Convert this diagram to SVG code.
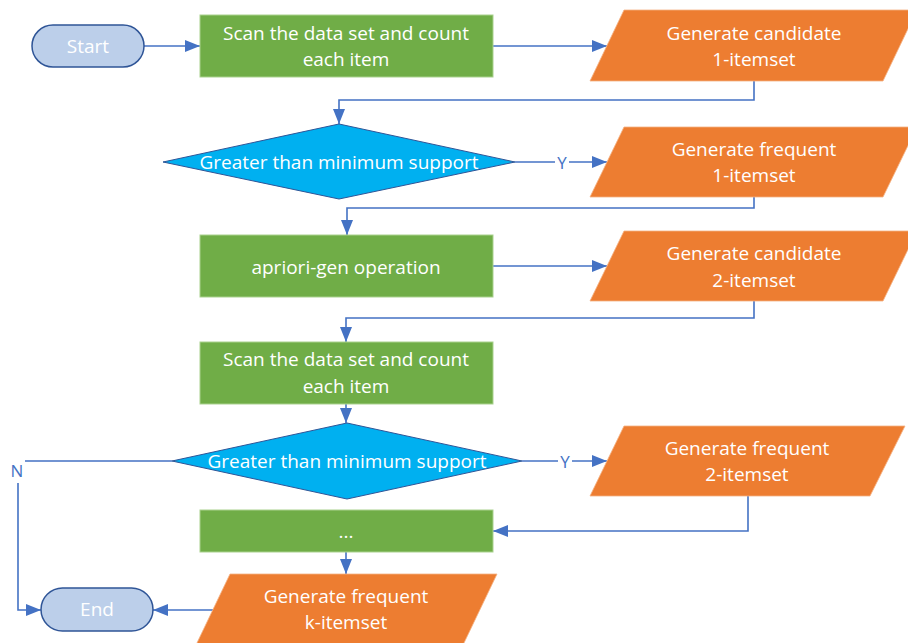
<svg xmlns="http://www.w3.org/2000/svg" width="908" height="643" viewBox="0 0 908 643">
  <style>
    .proc { fill: #70AD47; stroke: #A9D18E; stroke-width: 1; }
    .io { fill: #ED7D31; stroke: #F4B183; stroke-width: 0.8; }
    .dec { fill: #00B0F0; stroke: #2F5597; stroke-width: 1; }
    .term { fill: #BCCFEA; stroke: #2F5597; stroke-width: 1.5; }
    .t { font-family: "Open Sans", "Liberation Sans", sans-serif; font-size: 19px; fill: #FFFFFF; text-anchor: middle; dominant-baseline: central; }
    .lbl { font-family: "Open Sans", "Liberation Sans", sans-serif; font-size: 17px; fill: #4472C4; text-anchor: middle; dominant-baseline: central; }
    .wire { fill: none; stroke: #4472C4; stroke-width: 1.6; }
  </style>
  <defs>
    <marker id="arrow" markerUnits="userSpaceOnUse" markerWidth="16" markerHeight="14" refX="15" refY="7" orient="auto">
      <path d="M0,1 L15,7 L0,13 z" fill="#4472C4"/>
    </marker>
  </defs>

  <rect width="908" height="643" fill="#FFFFFF"/>

  <!-- connectors -->
  <g id="connectors">
    <path class="wire" d="M144,46 H200" marker-end="url(#arrow)"/>
    <path class="wire" d="M493,46 H607" marker-end="url(#arrow)"/>
    <path class="wire" d="M754,81 V100 H339 V124" marker-end="url(#arrow)"/>
    <path class="wire" d="M515,162 H607" marker-end="url(#arrow)"/>
    <path class="wire" d="M754,197 V208 H347 V235" marker-end="url(#arrow)"/>
    <path class="wire" d="M493,266 H607" marker-end="url(#arrow)"/>
    <path class="wire" d="M754,301 V318 H346 V342" marker-end="url(#arrow)"/>
    <path class="wire" d="M346,404 V423" marker-end="url(#arrow)"/>
    <path class="wire" d="M522,461 H607" marker-end="url(#arrow)"/>
    <path class="wire" d="M748,496 V531 H493" marker-end="url(#arrow)"/>
    <path class="wire" d="M346,552 V574" marker-end="url(#arrow)"/>
    <path class="wire" d="M213,610 H153" marker-end="url(#arrow)"/>
    <path class="wire" d="M172,461 H18 V610 H41" marker-end="url(#arrow)"/>
    <!-- branch labels -->
    <rect x="555" y="152" width="14" height="20" fill="#FFFFFF"/>
    <text class="lbl" x="562" y="162">Y</text>
    <rect x="558" y="451" width="14" height="20" fill="#FFFFFF"/>
    <text class="lbl" x="565" y="461">Y</text>
    <rect x="6" y="455" width="19" height="28" fill="#FFFFFF"/>
    <text class="lbl" x="17" y="470">N</text>
  </g>

  <g id="start">
    <rect class="term" x="32" y="25" width="112" height="42" rx="21"/>
    <text class="t" x="88" y="46">Start</text>
  </g>

  <g id="scan1">
    <rect class="proc" x="200" y="15" width="293" height="62"/>
    <text class="t" x="346" y="33">Scan the data set and count</text>
    <text class="t" x="346" y="59">each item</text>
  </g>

  <g id="candidate1">
    <polygon class="io" points="624,10 917,10 883,81 590,81"/>
    <text class="t" x="754" y="33">Generate candidate</text>
    <text class="t" x="754" y="59">1-itemset</text>
  </g>

  <g id="support1">
    <polygon class="dec" points="339,124 515,162 339,199 163,162"/>
    <text class="t" x="339" y="162">Greater than minimum support</text>
  </g>

  <g id="frequent1">
    <polygon class="io" points="624,127 917,127 883,197 590,197"/>
    <text class="t" x="754" y="149">Generate frequent</text>
    <text class="t" x="754" y="175">1-itemset</text>
  </g>

  <g id="apriori-gen">
    <rect class="proc" x="200" y="235" width="293" height="62"/>
    <text class="t" x="346" y="267">apriori-gen operation</text>
  </g>

  <g id="candidate2">
    <polygon class="io" points="624,231 917,231 883,301 590,301"/>
    <text class="t" x="754" y="253">Generate candidate</text>
    <text class="t" x="754" y="280">2-itemset</text>
  </g>

  <g id="scan2">
    <rect class="proc" x="200" y="342" width="293" height="62"/>
    <text class="t" x="346" y="359">Scan the data set and count</text>
    <text class="t" x="346" y="386">each item</text>
  </g>

  <g id="support2">
    <polygon class="dec" points="347,423 522,461 347,499 172,461"/>
    <text class="t" x="347" y="461">Greater than minimum support</text>
  </g>

  <g id="frequent2">
    <polygon class="io" points="624,426 905,426 870,496 590,496"/>
    <text class="t" x="747" y="448">Generate frequent</text>
    <text class="t" x="747" y="474">2-itemset</text>
  </g>

  <g id="ellipsis">
    <rect class="proc" x="200" y="510" width="293" height="42"/>
    <text class="t" x="346" y="531">...</text>
  </g>

  <g id="frequentk">
    <polygon class="io" points="230,574 497,574 463,645 196,645"/>
    <text class="t" x="346" y="596">Generate frequent</text>
    <text class="t" x="346" y="622">k-itemset</text>
  </g>

  <g id="end">
    <rect class="term" x="41" y="588" width="112" height="43" rx="21.5"/>
    <text class="t" x="97" y="609">End</text>
  </g>
</svg>
